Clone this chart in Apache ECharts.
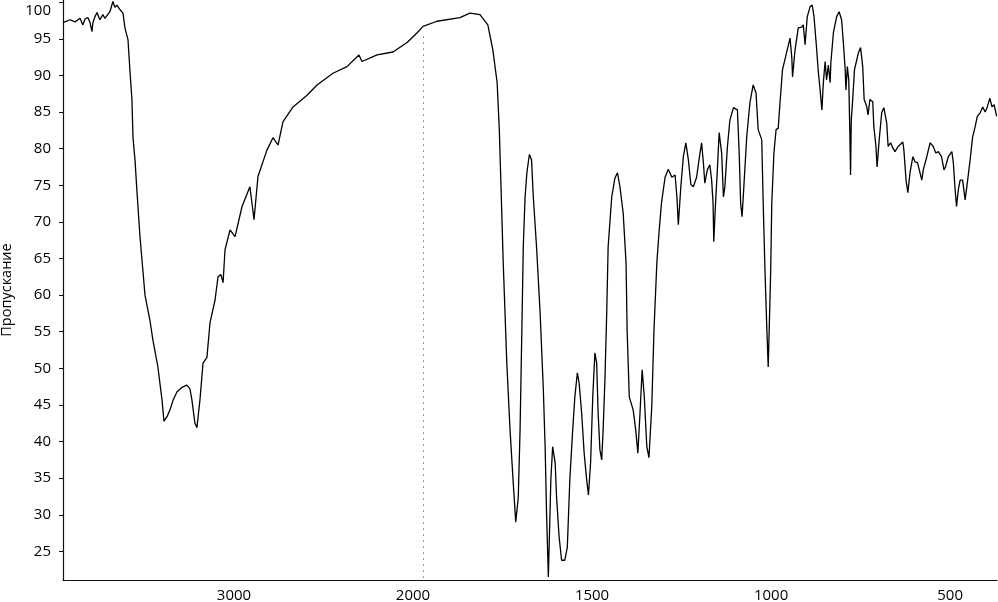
<!DOCTYPE html>
<html>
<head>
<meta charset="utf-8">
<script src="https://cdn.jsdelivr.net/npm/echarts@6/dist/echarts.min.js"></script>
<style>
html,body{margin:0;padding:0;background:#fff;}
#chart{width:998px;height:602px;}
</style>
</head>
<body>
<div id="chart"></div>
<script>
// Wavenumbers (cm-1) and transmittance (%)
const wavenumbers = [
3955,3944,3916,3888,3877,3860,3844,3832,3816,3805,3793,3788,3777,3765,3749,3732,3721,3710,3693,3676,3665,3654,3637,3626,3620,
3609,3592,3581,3570,3564,3553,3542,3525,3497,3469,3453,3425,3402,3391,3374,3358,3341,3318,3291,3263,3246,3235,3218,3207,3190,
3173,3151,3134,3106,3089,3073,3061,3050,3022,2994,2955,2911,2888,2866,2816,2782,2754,2726,2670,2592,2536,2447,2369,2302,2285,
2201,2112,2033,1989,1972,1933,1869,1841,1813,1791,1777,1765,1759,1757,1748,1738,1729,1720,1713,1706,1701,1696,1692,1687,1682,
1675,1669,1664,1655,1645,1636,1631,1627,1622,1615,1610,1603,1599,1592,1585,1576,1569,1562,1554,1548,1541,1536,1529,1522,1515,
1510,1504,1498,1492,1487,1483,1478,1473,1469,1464,1459,1455,1445,1436,1429,1422,1413,1405,1402,1396,1385,1378,1372,1366,1360,
1354,1347,1341,1333,1327,1319,1313,1306,1296,1287,1277,1268,1263,1259,1252,1245,1238,1231,1224,1217,1208,1200,1194,1189,1185,
1178,1171,1166,1162,1160,1155,1150,1145,1138,1133,1129,1122,1115,1105,1094,1089,1085,1081,1076,1068,1059,1050,1042,1036,1026,
1022,1017,1012,1008,1005,1001,998,992,986,980,975,968,947,942,940,933,924,914,910,905,899,891,885,880,874,868,863,858,854,849,
845,840,835,833,826,817,810,803,798,793,791,787,783,780,778,776,772,767,756,750,744,740,733,729,724,716,713,707,704,698,691,685,
677,673,666,660,654,645,632,629,623,618,612,604,598,591,584,579,575,565,556,547,540,533,524,517,513,505,495,491,486,482,477,472,
465,458,452,444,437,430,424,416,409,402,396,389,383,377,370
];
const transmittance = [
97.2,97.4,97.6,97.3,97.4,97.8,96.9,97.7,97.9,97.3,96.0,97.2,98.0,98.6,97.6,98.3,97.8,98.0,98.7,100.1,99.3,99.6,99.0,98.8,98.5,
96.5,94.9,90.6,86.7,81.5,78.5,74.2,68.0,60.0,56.5,53.9,50.2,45.7,42.8,43.4,44.3,45.6,46.8,47.4,47.7,47.2,45.7,42.5,41.9,45.7,
50.7,51.5,56.2,59.3,62.5,62.8,61.7,66.2,68.9,68.0,72.1,74.8,70.3,76.2,79.8,81.5,80.5,83.7,85.7,87.3,88.7,90.3,91.2,92.8,91.9,
92.8,93.2,94.5,95.8,96.7,97.4,97.9,98.5,98.3,96.9,93.5,89.0,82.6,79.4,64.4,50.7,41.6,34.3,29.0,32.4,41.6,55.2,66.6,73.4,76.7,
79.2,78.5,73.4,66.6,57.6,47.1,39.3,30.2,21.5,34.8,39.3,37.1,32.4,27.0,23.8,23.8,25.6,34.8,41.6,46.1,49.4,48.0,43.9,38.4,34.8,
32.7,37.1,46.1,52.1,50.7,43.9,38.9,37.5,41.6,48.4,57.6,66.6,73.4,76.0,76.7,74.8,71.2,64.4,55.2,46.1,44.3,41.6,38.4,43.9,49.8,
46.1,39.3,37.8,45.0,55.2,64.4,68.5,72.6,76.1,77.2,76.1,76.4,73.4,69.6,74.8,78.9,80.8,78.5,75.1,74.8,76.1,78.9,80.8,78.1,75.3,
77.1,77.8,75.7,72.6,67.3,72.6,77.1,82.2,79.4,73.4,74.8,80.2,83.9,85.6,85.3,79.4,72.6,70.7,74.8,81.6,86.3,88.7,87.6,82.6,81.2,
72.6,63.4,55.7,50.2,55.7,63.4,72.6,79.4,82.6,82.8,86.3,90.8,95.1,92.4,89.8,93.5,96.5,96.6,96.9,94.2,98.0,99.4,99.6,98.0,94.4,90.5,88.0,85.3,89.0,91.9,
89.4,91.4,89.0,91.7,95.8,98.0,98.7,97.6,94.4,90.8,88.0,91.2,89.4,82.2,76.4,83.9,86.7,90.8,93.1,93.8,91.2,86.7,85.8,84.6,86.7,86.4,83.0,80.3,77.5,81.2,84.9,85.6,
83.5,80.3,80.8,80.1,79.6,80.3,80.9,79.8,75.7,74.0,76.7,78.9,78.2,78.1,76.7,75.7,77.1,78.9,80.8,80.3,79.4,79.6,78.9,77.1,77.5,78.9,79.6,78.1,74.4,72.1,74.4,75.7,
75.7,73.0,75.3,78.5,81.6,83.0,84.4,84.9,85.7,85.0,85.7,86.9,85.7,86.0,84.4
];
const xTickLabels = [3000, 2000, 1500, 1000, 500];
const yTickLabels = [25,30,35,40,45,50,55,60,65,70,75,80,85,90,95,100];
const xRange = [3955, 369];
const yRange = [21.1, 100.3];
const scaleBreak = 1972;     // dotted separator line
const scaleBreakTop = 95.3;

// Spectrum axis: scale doubles below 2000 cm-1
function toP(w) { return w >= 2000 ? (4000 - w) / 2 : 1000 + (2000 - w); }
function fromP(p) { return p <= 1000 ? 4000 - 2 * p : 3000 - p; }

const seriesData = wavenumbers.map((w, i) => [toP(w), transmittance[i]]);

const chart = echarts.init(document.getElementById('chart'), null, {renderer: 'canvas'});
const font = 'Open Sans';
chart.setOption({
  animation: false,
  backgroundColor: '#fff',
  grid: {left: 63, right: 1, top: 0, bottom: 22, containLabel: false, outerBoundsMode: 'none'},
  xAxis: {
    type: 'value',
    min: toP(xRange[0]),
    max: toP(xRange[1]),
    axisLine: {show: true, lineStyle: {color: '#111', width: 1.2}},
    axisTick: {show: false},
    splitLine: {show: false},
    axisLabel: {
      customValues: xTickLabels.map(toP),
      formatter: v => String(Math.round(fromP(v))),
      color: '#000', fontSize: 15, fontFamily: font, margin: 8
    }
  },
  yAxis: {
    type: 'value',
    min: yRange[0],
    max: yRange[1],
    name: 'Пропускание',
    nameLocation: 'middle',
    nameRotate: 90,
    nameGap: 46,
    nameTextStyle: {color: '#000', fontSize: 14.5, fontFamily: font},
    axisLine: {show: true, lineStyle: {color: '#111', width: 1.2}},
    axisTick: {show: true, customValues: yTickLabels, length: 4, lineStyle: {color: '#111'}},
    splitLine: {show: false},
    axisLabel: {
      customValues: yTickLabels,
      formatter: v => v === 100 ? '{t|100}' : String(v),
      rich: {t: {padding: [18, 0, 0, 0], fontSize: 15, fontFamily: font, color: '#000'}},
      color: '#000', fontSize: 15, fontFamily: font, margin: 12
    }
  },
  series: [{
    type: 'line',
    data: seriesData,
    showSymbol: false,
    symbol: 'none',
    lineStyle: {color: '#000', width: 1.3},
    z: 3,
    markLine: {
      silent: true,
      symbol: ['none', 'none'],
      label: {show: false},
      lineStyle: {color: '#333', type: [1, 5], width: 1},
      data: [[{coord: [toP(scaleBreak), scaleBreakTop]}, {coord: [toP(scaleBreak), yRange[0]]}]]
    }
  }]
});
</script>
</body>
</html>
